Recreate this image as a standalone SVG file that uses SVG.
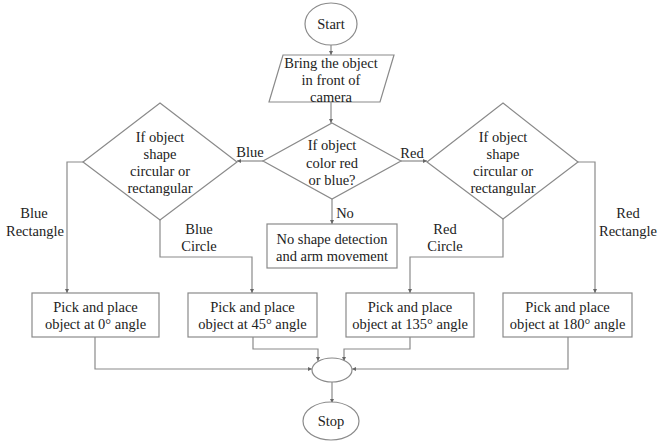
<svg xmlns="http://www.w3.org/2000/svg" width="657" height="443" viewBox="0 0 657 443">
<style>
.s{fill:#fff;stroke:#8a8a8a;stroke-width:1.2}
.c{fill:none;stroke:#8a8a8a;stroke-width:1.2}
.t text{font-size:14.5px;fill:#222;text-anchor:middle}
</style>
<defs>
<marker id="arr" markerUnits="userSpaceOnUse" markerWidth="4" markerHeight="4" refX="4" refY="2" orient="auto">
<path d="M0,0 L4,2 L0,4 z" fill="#666"/>
</marker>
</defs>
<rect width="657" height="443" fill="#fff"/>
<g class="t" font-family="Liberation Serif, DejaVu Serif, serif">
<g id="connectors">
<path class="c" d="M331,45 V55" marker-end="url(#arr)"/>
<path class="c" d="M331,102 V123" marker-end="url(#arr)"/>
<path class="c" d="M263,161 H237" marker-end="url(#arr)"/>
<path class="c" d="M401,161 H427" marker-end="url(#arr)"/>
<path class="c" d="M332,199 V224" marker-end="url(#arr)"/>
<path class="c" d="M83,162 H67 V293" marker-end="url(#arr)"/>
<path class="c" d="M160,220 V257 H252 V293" marker-end="url(#arr)"/>
<path class="c" d="M503,219 V257 H410 V293" marker-end="url(#arr)"/>
<path class="c" d="M578,162 H595 V293" marker-end="url(#arr)"/>
<path class="c" d="M95,337 V369 H312" marker-end="url(#arr)"/>
<path class="c" d="M253,337 V349 H318 V361" marker-end="url(#arr)"/>
<path class="c" d="M410,337 V349 H344 V361" marker-end="url(#arr)"/>
<path class="c" d="M568,337 V369 H352" marker-end="url(#arr)"/>
<path class="c" d="M332,382 V403" marker-end="url(#arr)"/>
<text x="250" y="157">Blue</text>
<text x="412" y="158">Red</text>
<text x="345" y="218">No</text>
<text x="34" y="218">Blue</text>
<text x="35" y="236">Rectangle</text>
<text x="199" y="234">Blue</text>
<text x="199" y="251">Circle</text>
<text x="445" y="234">Red</text>
<text x="445" y="251">Circle</text>
<text x="628" y="218">Red</text>
<text x="628" y="236">Rectangle</text>
</g>
<g id="start">
<ellipse class="s" cx="331" cy="24" rx="26" ry="21"/>
<text x="331" y="29">Start</text>
</g>
<g id="input">
<polygon class="s" points="283,55 394,55 380,102 269,102"/>
<text x="331" y="68">Bring the object</text>
<text x="331" y="85">in front of</text>
<text x="331" y="102">camera</text>
</g>
<g id="color-decision">
<polygon class="s" points="332,123 401,161 332,199 263,161"/>
<text x="332" y="150">If object</text>
<text x="332" y="168">color red</text>
<text x="332" y="185">or blue?</text>
</g>
<g id="shape-decision-blue">
<polygon class="s" points="160,103 237,162 160,220 83,162"/>
<text x="160" y="142">If object</text>
<text x="160" y="159">shape</text>
<text x="160" y="176">circular or</text>
<text x="160" y="193">rectangular</text>
</g>
<g id="shape-decision-red">
<polygon class="s" points="503,103 578,162 503,219 427,162"/>
<text x="503" y="142">If object</text>
<text x="503" y="159">shape</text>
<text x="503" y="176">circular or</text>
<text x="503" y="193">rectangular</text>
</g>
<g id="no-detection">
<rect class="s" x="267" y="224" width="130" height="44"/>
<text x="332" y="244">No shape detection</text>
<text x="332" y="261">and arm movement</text>
</g>
<g id="pick-0">
<rect class="s" x="32" y="293" width="127" height="44"/>
<text x="95.5" y="312">Pick and place</text>
<text x="95.5" y="329">object at 0° angle</text>
</g>
<g id="pick-45">
<rect class="s" x="188" y="293" width="129" height="44"/>
<text x="252.5" y="312">Pick and place</text>
<text x="252.5" y="329">object at 45° angle</text>
</g>
<g id="pick-135">
<rect class="s" x="346" y="293" width="128" height="44"/>
<text x="410" y="312">Pick and place</text>
<text x="410" y="329">object at 135° angle</text>
</g>
<g id="pick-180">
<rect class="s" x="503" y="293" width="129" height="44"/>
<text x="567.5" y="312">Pick and place</text>
<text x="567.5" y="329">object at 180° angle</text>
</g>
<g id="merge">
<ellipse class="s" cx="332" cy="370" rx="20" ry="12"/>
</g>
<g id="stop">
<ellipse class="s" cx="331" cy="421" rx="28" ry="19"/>
<text x="331" y="426">Stop</text>
</g>
</g>
</svg>
